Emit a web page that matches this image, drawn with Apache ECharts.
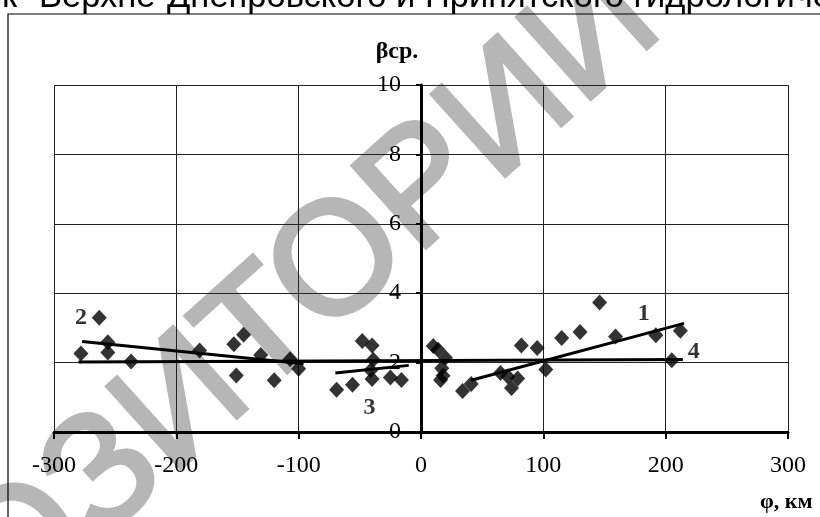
<!DOCTYPE html>
<html>
<head>
<meta charset="utf-8">
<script src="https://cdn.jsdelivr.net/npm/echarts@6/dist/echarts.min.js"></script>
<style>html,body{margin:0;padding:0;background:#fff}#c{width:820px;height:517px}</style>
</head>
<body>
<div id="c"></div>
<script>
// Data
const phi  = [-278,-263,-256,-256,-237,-181,-153,-145,-151,-131,-120,-107,-100,
              -69,-56,-48,-40,-39,-41,-40,-25,-16,
              10,14,20,17,18,16,
              34,41,65,71,74,79,82,95,102,115,130,146,159,192,212,205];
const beta = [2.26,3.29,2.59,2.29,2.03,2.35,2.53,2.80,1.63,2.22,1.49,2.10,1.82,
              1.22,1.36,2.62,2.49,2.08,1.78,1.53,1.57,1.50,
              2.48,2.37,2.14,1.84,1.62,1.50,
              1.18,1.38,1.70,1.60,1.27,1.54,2.49,2.42,1.80,2.71,2.88,3.73,2.75,2.79,2.92,2.07];
const trend1 = [[41,1.49],[215,3.13]];
const trend2 = [[-277,2.61],[-96,1.97]];
const trend3 = [[-70,1.70],[-10,1.92]];
const trend4 = [[-280,2.02],[214,2.09]];
const curveLabels = ['1','2','3','4'];
const labelPhi  = [182,-278,-42,223];
const labelBeta = [3.42,3.28,0.69,2.30];
const xMin = -300, xMax = 300, xStep = 100;
const yMin = 0, yMax = 10, yStep = 2;

const serif = '"Liberation Serif","Times New Roman",serif';
const gridLeft = 54, gridRight = 32;
const plotW = 820 - gridLeft - gridRight;
const zeroOffset = plotW * (0 - xMin) / (xMax - xMin);
const chart = echarts.init(document.getElementById('c'), null, {renderer:'canvas'});
const lineStyle = {color:'#000', width:3};
const trendSeries = [trend1,trend2,trend3,trend4].map(d => ({
  type:'line', data:d, symbol:'none', lineStyle:lineStyle, z:3, silent:true, animation:false
}));
chart.setOption({
  backgroundColor:'#fff',
  animation:false,
  grid:{left:gridLeft, right:gridRight, top:85, bottom:85},
  xAxis:{
    type:'value', min:xMin, max:xMax, interval:xStep,
    axisLine:{onZero:false, lineStyle:{color:'#000', width:3}},
    axisTick:{show:true, length:7, lineStyle:{color:'#000', width:2}},
    axisLabel:{margin:22, fontFamily:serif, fontSize:24, color:'#000'},
    splitLine:{show:true, lineStyle:{color:'#222', width:1}}
  },
  yAxis:{
    type:'value', min:yMin, max:yMax, interval:yStep, offset:-zeroOffset,
    axisLine:{show:true, onZero:false, lineStyle:{color:'#000', width:3}},
    axisTick:{show:true, length:5, lineStyle:{color:'#000', width:2}},
    axisLabel:{margin:20, fontFamily:serif, fontSize:24, color:'#000'},
    splitLine:{show:true, lineStyle:{color:'#222', width:1}}
  },
  graphic:[
    {type:'text', z:-5, position:[185,405], rotation:42*Math.PI/180,
     style:{text:'РЕПОЗИТОРИЙ', font:'160px "Liberation Sans", Arial, sans-serif',
            fill:'#b6b6b6', stroke:'#b6b6b6', lineWidth:4, textAlign:'center', textVerticalAlign:'middle'}},
    {type:'polyline', z:1, shape:{points:[[8,517],[8,14],[820,14]]}, style:{stroke:'#000', lineWidth:1.2, fill:null}},
    {type:'text', z:2, position:[39,-20], style:{text:'Верхне-Днепровского и Припятского гидрологических', font:'34.5px "Liberation Sans", Arial, sans-serif', fill:'#000'}},
    {type:'text', z:2, position:[17,-20], style:{text:'рек', font:'34.5px "Liberation Sans", Arial, sans-serif', fill:'#000', textAlign:'right'}},
    {type:'text', z:4, position:[397,52], style:{text:'βср.', font:'bold 24px '+serif, fill:'#000', textAlign:'center', textVerticalAlign:'middle'}},
    {type:'text', z:4, position:[760,502], style:{text:'φ, км', font:'bold 22px '+serif, fill:'#000', textAlign:'left', textVerticalAlign:'middle'}}
  ],
  series:[
    {type:'scatter', data:phi.map((p,i)=>[p,beta[i]]), symbol:'diamond', symbolSize:[15,16],
     itemStyle:{color:'#000'}, z:4},
    ...trendSeries,
    {type:'scatter', data:curveLabels.map((t,i)=>({value:[labelPhi[i],labelBeta[i]], name:t})),
     symbolSize:1, itemStyle:{color:'transparent'}, z:5,
     label:{show:true, position:'inside', formatter:p=>p.name, fontFamily:serif, fontSize:24, fontWeight:'bold', color:'#000'}}
  ]
});
</script>
</body>
</html>
